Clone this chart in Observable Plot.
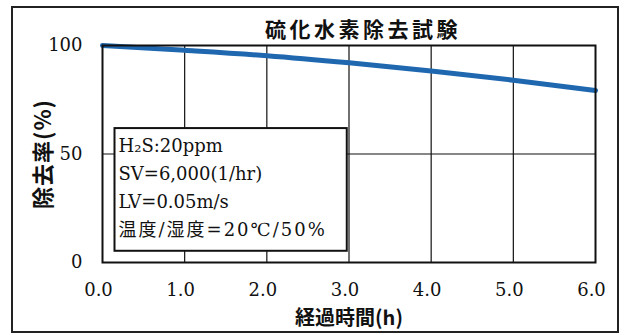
<!DOCTYPE html>
<html>
<head>
<meta charset="utf-8">
<script src="https://cdn.jsdelivr.net/npm/d3@7"></script>
<script src="https://cdn.jsdelivr.net/npm/@observablehq/plot@0.6"></script>
<style>
  html, body { margin: 0; padding: 0; background: #fff; }
  #wrap { width: 624px; height: 335px; }
</style>
</head>
<body>
<div id="wrap"></div>
<script>
// Data
const hours = [0, 1, 2, 3, 4, 5, 6];
const removalRate = [100, 97.8, 95.3, 92, 88.2, 84, 79.3];
const xTicks = [0, 1, 2, 3, 4, 5, 6];
const yTicks = [0, 50, 100];
const titleText = "硫化水素除去試験";
const xLabel = "経過時間(h)";
const yLabel = "除去率(%)";
const conditions = ["H₂S:20ppm", "SV=6,000(1/hr)", "LV=0.05m/s", "温度/湿度=20℃/50%"];

const data = hours.map((h, i) => ({h, r: removalRate[i]}));
const font = "'DejaVu Serif', 'Noto Sans CJK JP', serif";
const cjk = "'Noto Sans CJK JP', sans-serif";

const plot = Plot.plot({
  width: 624,
  height: 335,
  marginLeft: 102,
  marginRight: 29,
  marginTop: 45,
  marginBottom: 73,
  style: {fontFamily: font, background: "transparent", color: "#111"},
  x: {domain: [0, 6]},
  y: {domain: [0, 100]},
  marks: [
    Plot.gridX([1, 2, 3, 4, 5], {stroke: "#111", strokeOpacity: 1, strokeWidth: 1.2}),
    Plot.gridY([50], {stroke: "#111", strokeOpacity: 1, strokeWidth: 1.2}),
    Plot.line(data, {x: "h", y: "r", stroke: "#1f68b0", strokeWidth: 5, curve: "monotone-x"}),
    Plot.frame({stroke: "#111", strokeWidth: 2}),
    Plot.axisX(xTicks, {tickSize: 0, tickPadding: 21, tickFormat: d => d.toFixed(1), fontSize: 18, dx: -4,
      label: xLabel, labelAnchor: "center", labelArrow: "none", labelOffset: 62}),
    Plot.axisY(yTicks, {tickSize: 0, tickPadding: 20, fontSize: 18,
      label: yLabel, labelAnchor: "center", labelArrow: "none", labelOffset: 67}),
    Plot.text([titleText], {frameAnchor: "top", lineAnchor: "middle", dx: 14, dy: -15, fontSize: 21, fontWeight: "bold",
      fontFamily: cjk, className: "chart-title"}),
    Plot.text([conditions.join("\n")], {frameAnchor: "left", dx: 16, dy: 31, textAnchor: "start", lineAnchor: "middle",
      lineHeight: 1.55, fontSize: 18, className: "legend-text"})
  ]
});

document.getElementById("wrap").append(plot);

// Text styling tweaks
d3.select(plot).selectAll(".chart-title text").style("letter-spacing", "3.5px");
d3.select(plot).selectAll("[aria-label='x-axis label'] text")
  .style("font-size", "20px").style("font-family", cjk).style("font-weight", "bold");
d3.select(plot).selectAll("[aria-label='y-axis label'] text")
  .style("font-size", "22px").style("font-family", cjk).style("font-weight", "bold").style("letter-spacing", "1px");

const svgNS = "http://www.w3.org/2000/svg";
const lt = plot.querySelector(".legend-text");
if (lt) {
  const tspans = lt.querySelectorAll("tspan");
  if (tspans.length) tspans[tspans.length - 1].setAttribute("letter-spacing", "2");
  // Box behind the test-condition text, in the same coordinate system as the text group
  const bb = lt.getBBox();
  const rect = document.createElementNS(svgNS, "rect");
  rect.setAttribute("x", bb.x - 4);
  rect.setAttribute("y", bb.y - 7);
  rect.setAttribute("width", bb.width + 24);
  rect.setAttribute("height", bb.height + 18);
  rect.setAttribute("fill", "#fff");
  rect.setAttribute("stroke", "#111");
  rect.setAttribute("stroke-width", 2);
  const tr = lt.getAttribute("transform");
  if (tr) rect.setAttribute("transform", tr);
  lt.parentNode.insertBefore(rect, lt);
}

// Outer border of the figure
const outer = document.createElementNS(svgNS, "rect");
outer.setAttribute("x", 12);
outer.setAttribute("y", 7);
outer.setAttribute("width", 606);
outer.setAttribute("height", 325);
outer.setAttribute("fill", "none");
outer.setAttribute("stroke", "#222");
outer.setAttribute("stroke-width", 2);
plot.append(outer);
</script>
</body>
</html>
